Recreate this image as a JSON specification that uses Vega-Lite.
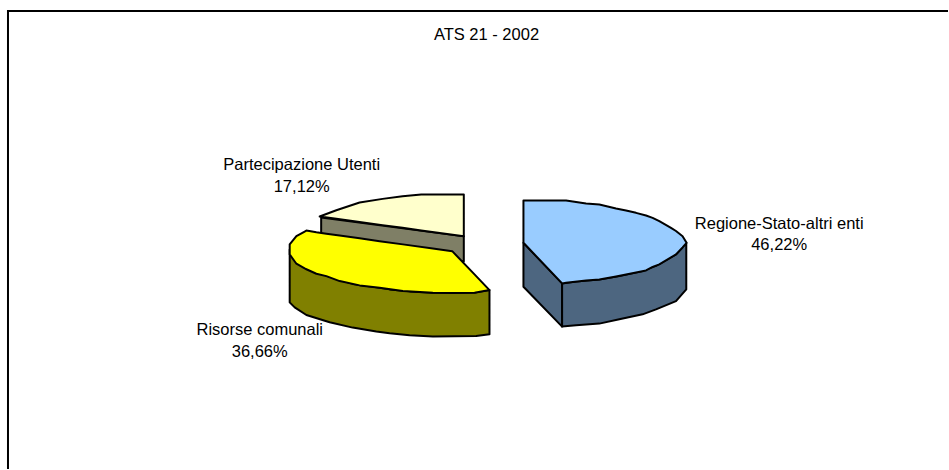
{
"$schema":"https://vega.github.io/schema/vega-lite/v6.json",
"width":949,"height":470,"autosize":{"type":"fit","contains":"padding"},"padding":0,
"background":"white",
"view":{"stroke":null},
"datasets":{
"faces":[
{"face":"cream side","x":321.5,"y":218,"y2":240},
{"face":"cream side","x":464.3,"y":236.7,"y2":262},
{"face":"cream top","x":320,"y":217,"y2":217},
{"face":"cream top","x":336.7,"y":210.7,"y2":219.3},
{"face":"cream top","x":360,"y":203,"y2":222.5},
{"face":"cream top","x":383,"y":199.3,"y2":225.6},
{"face":"cream top","x":403,"y":196.7,"y2":228.3},
{"face":"cream top","x":421.7,"y":195,"y2":230.9},
{"face":"cream top","x":464.3,"y":195,"y2":236.7},
{"face":"yellow side","x":290,"y":250,"y2":303},
{"face":"yellow side","x":295,"y":261,"y2":308},
{"face":"yellow side","x":306.7,"y":269,"y2":315.7},
{"face":"yellow side","x":330,"y":277.5,"y2":323},
{"face":"yellow side","x":353,"y":284.5,"y2":328.3},
{"face":"yellow side","x":376.7,"y":287.8,"y2":332.3},
{"face":"yellow side","x":390,"y":290,"y2":334},
{"face":"yellow side","x":410,"y":292,"y2":336},
{"face":"yellow side","x":433.3,"y":293.3,"y2":337.3},
{"face":"yellow side","x":476.7,"y":293,"y2":336.7},
{"face":"yellow side","x":490,"y":290.7,"y2":335},
{"face":"yellow top","x":290,"y":245,"y2":255},
{"face":"yellow top","x":296.7,"y":236.7,"y2":264.3},
{"face":"yellow top","x":305,"y":232,"y2":269},
{"face":"yellow top","x":306.7,"y":231,"y2":269.8},
{"face":"yellow top","x":316.7,"y":232.8,"y2":274.3},
{"face":"yellow top","x":326.7,"y":234.2,"y2":276.7},
{"face":"yellow top","x":340,"y":236,"y2":281.7},
{"face":"yellow top","x":360,"y":238.8,"y2":286},
{"face":"yellow top","x":380,"y":241.7,"y2":288.3},
{"face":"yellow top","x":403.3,"y":244.9,"y2":291.7},
{"face":"yellow top","x":433.3,"y":249,"y2":293.3},
{"face":"yellow top","x":452.7,"y":251.7,"y2":293.5},
{"face":"yellow top","x":475,"y":275,"y2":293.3},
{"face":"yellow top","x":490,"y":290.7,"y2":290.7},
{"face":"blue front","x":524,"y":243.3,"y2":287.3},
{"face":"blue front","x":562.7,"y":284,"y2":327.3},
{"face":"blue side","x":562.7,"y":284,"y2":327.3},
{"face":"blue side","x":576.7,"y":282,"y2":326},
{"face":"blue side","x":600,"y":280,"y2":324.3},
{"face":"blue side","x":620,"y":276.5,"y2":320},
{"face":"blue side","x":643.3,"y":271.5,"y2":315},
{"face":"blue side","x":656.7,"y":266.5,"y2":310},
{"face":"blue side","x":676.7,"y":255,"y2":301.7},
{"face":"blue side","x":687,"y":243.3,"y2":290},
{"face":"blue top","x":524,"y":201,"y2":243.3},
{"face":"blue top","x":562.7,"y":201,"y2":284},
{"face":"blue top","x":566.7,"y":201,"y2":283.4},
{"face":"blue top","x":586.7,"y":204,"y2":281},
{"face":"blue top","x":600,"y":205,"y2":280},
{"face":"blue top","x":616.7,"y":209,"y2":277},
{"face":"blue top","x":626.7,"y":211,"y2":275},
{"face":"blue top","x":636.7,"y":213.3,"y2":273},
{"face":"blue top","x":646.7,"y":216,"y2":271},
{"face":"blue top","x":653.3,"y":218.3,"y2":267.5},
{"face":"blue top","x":660,"y":221.5,"y2":265},
{"face":"blue top","x":671.7,"y":228.3,"y2":258},
{"face":"blue top","x":676.7,"y":231.5,"y2":255},
{"face":"blue top","x":683.3,"y":236.7,"y2":248},
{"face":"blue top","x":687.3,"y":243.3,"y2":243.3}
],
"texts":[
{"x":487,"y":35,"label":"ATS 21 - 2002"},
{"x":302,"y":165,"label":"Partecipazione Utenti"},
{"x":302,"y":187,"label":"17,12%"},
{"x":780,"y":224,"label":"Regione-Stato-altri enti"},
{"x":780,"y":246,"label":"46,22%"},
{"x":260,"y":331,"label":"Risorse comunali"},
{"x":260,"y":353,"label":"36,66%"}
],
"frame":[
{"x":7,"x2":949,"y":11,"y2":11},
{"x":8,"x2":8,"y":10,"y2":470}
]
},
"encoding":{
"x":{"field":"x","type":"quantitative","scale":{"domain":[0,949],"nice":false,"zero":false},"axis":null},
"y":{"field":"y","type":"quantitative","scale":{"domain":[470,0],"nice":false,"zero":false},"axis":null}
},
"layer":[
{"data":{"name":"frame"},"mark":{"type":"rule","stroke":"black","strokeWidth":2},
 "encoding":{"x2":{"field":"x2"},"y2":{"field":"y2"}}},
{"data":{"name":"faces"},
 "mark":{"type":"area","stroke":"black","strokeWidth":2,"strokeJoin":"round","opacity":1,"interpolate":"linear"},
 "encoding":{
  "y2":{"field":"y2"},
  "fill":{"field":"face","type":"nominal","legend":null,"scale":{
    "domain":["cream side","cream top","yellow side","yellow top","blue front","blue side","blue top"],
    "range":["#7f7f66","#ffffcc","#808000","#ffff00","#4d6680","#4d6680","#99ccff"]}},
  "detail":{"field":"face"}
 }},
{"data":{"name":"texts"},"mark":{"type":"text","font":"Liberation Sans","fontSize":16.5,"align":"center","baseline":"middle","fill":"black"},
 "encoding":{"text":{"field":"label"}}}
]
}
